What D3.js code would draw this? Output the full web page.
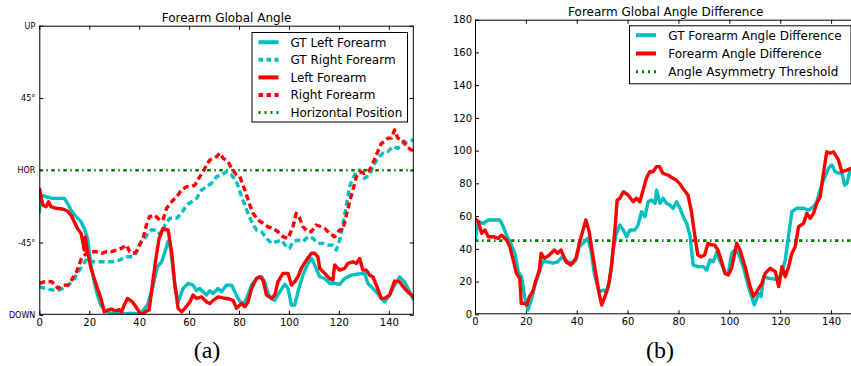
<!DOCTYPE html>
<html>
<head>
<meta charset="utf-8">
<script src="https://cdn.jsdelivr.net/npm/d3@7"></script>
<style>
  html, body { margin: 0; padding: 0; background: #fff; }
  svg { display: block; }
  text { fill: #000; }
</style>
</head>
<body>
<svg id="chart" width="851" height="366"></svg>
<script>
// ---------------- DATA ----------------
// Panel (a): Forearm Global Angle, frames vs angle (degrees, -90 = DOWN, 0 = HOR, 90 = UP)
const frameTicks = [0, 20, 40, 60, 80, 100, 120, 140];
const angleTickValues = [-90, -45, 0, 45, 90];
const angleTickLabels = ["DOWN", "-45°", "HOR", "45°", "UP"];
const horizontalPosition = 0;

const gtLeftForearm = [[0,-26.8],[0.6,-15.4],[2.7,-16.5],[5.3,-17.5],[8,-17.5],[10,-17.5],[11.3,-20.6],[12.7,-24.8],[14.7,-28.9],[16.7,-32],[18,-36.2],[19.3,-42.4],[20.7,-59],[22,-69.4],[23.3,-77.7],[24.7,-84],[26,-87],[28,-89],[31,-88.5],[34,-89.5],[37,-89],[39,-89.5],[41.3,-88],[43.3,-84],[45.3,-73.6],[47.3,-60],[49,-57],[50.5,-50],[51.6,-44],[52.3,-46],[53.3,-58],[54.3,-72],[55.6,-82],[57.6,-73.6],[59.6,-70.4],[61.6,-71.5],[63,-75],[64.3,-73.6],[65.6,-75.7],[67,-77.7],[68.3,-75],[69.6,-76.7],[71.6,-73.6],[73,-75.7],[75,-71.5],[77,-71.5],[78.3,-75.7],[79.6,-79.8],[81,-83],[82.3,-82],[83.6,-77.7],[85,-71.5],[87,-67.4],[89,-66.3],[90.3,-69.4],[91.6,-76.7],[93,-79.8],[94.3,-81],[96.3,-75.7],[98.3,-71],[99.6,-73.6],[101,-84],[102.3,-84],[103.6,-75.7],[105.6,-65.3],[107.6,-58],[109,-54.9],[110.3,-59],[112.3,-66.3],[114.3,-67.4],[116.3,-70.4],[118.3,-70.4],[120.3,-71],[122.3,-67.4],[125,-65.3],[127.6,-64.6],[130.3,-64.2],[131.6,-70.4],[133.6,-73.6],[135.6,-76.7],[137,-79.8],[138.3,-82],[140.3,-77.7],[142.3,-71.5],[144.3,-66.5],[146.3,-69.4],[148.3,-75.7],[150,-81]];

const gtRightForearm = [[0,-72.6],[2.7,-73.6],[5.3,-74.6],[8,-74.6],[10.6,-72.6],[13.3,-69.4],[15.3,-64.2],[17.3,-59],[19.3,-54.9],[21.3,-57],[24,-57],[26.7,-57],[29.3,-57],[32,-56],[34.7,-53.9],[37.3,-53.9],[38.7,-51.7],[40.7,-44.5],[42.7,-41.4],[44.7,-37.2],[46.7,-37.2],[48.7,-40.3],[50.3,-34.1],[52.3,-29.9],[55,-29.9],[57,-26.8],[59,-21.6],[61,-19.6],[63,-17.5],[65,-12.3],[67,-10.2],[69,-8.1],[71,-4],[73,-2.9],[75,-0.9],[77,-2.9],[79,-7.1],[81,-16.5],[82.3,-21.6],[83.6,-26.8],[85,-32],[87,-37.2],[89,-38.3],[91,-42.4],[93,-45.5],[95,-44.5],[97,-43.5],[99,-47.6],[100.3,-48.6],[101.6,-44.5],[103.6,-43.5],[105.6,-44.5],[107.6,-41.4],[109.6,-42.4],[111.6,-45.5],[113.6,-45.5],[115.6,-46.6],[117.6,-46.6],[119,-49.7],[120.3,-43.5],[121.6,-34.1],[123,-21.6],[124.3,-10.2],[125.6,-5],[127,-0.9],[128.3,0.2],[130.3,-5],[132.3,-2.9],[133.6,2.2],[135.6,7.5],[137.6,10.6],[139.6,11.6],[141.6,14.7],[143.6,13.7],[145.6,16.8],[147.6,17.8],[150,19]];

const leftForearm = [[0,-11],[1.4,-21.6],[2.7,-22.7],[3.7,-19.6],[4.7,-22.7],[6.7,-23.7],[9.3,-24.1],[11.3,-25.4],[12.7,-27.9],[14,-32],[15.3,-36.2],[16.7,-39.3],[17.3,-43.5],[18,-49.7],[18.4,-41.6],[19.3,-50.7],[20.7,-61],[22,-67.4],[23.3,-73.6],[24.7,-79.8],[26,-88.2],[27.5,-87],[29,-86.5],[30.5,-87.5],[32,-86.8],[33,-88],[34,-84],[35.3,-79.8],[37.3,-82],[38.7,-85],[40.7,-90],[42.7,-88],[44,-87],[45.3,-71.5],[46.7,-54.9],[48,-42.4],[49.4,-36.6],[51.6,-37.2],[53,-50.7],[54.3,-71.5],[55.6,-86],[57,-88.2],[58.3,-86],[60.3,-82],[61.6,-77.7],[63,-79.8],[65,-78.8],[67,-82],[68.3,-83],[69.6,-81],[71.6,-78.8],[73.6,-79.5],[75.6,-80],[77.6,-81],[79,-86],[81,-83],[82.3,-85],[83.6,-82],[85,-73.6],[87,-67.4],[88.3,-66.3],[89.6,-68.4],[91,-77.7],[93,-79.8],[94.3,-77.7],[95.6,-69.4],[97.6,-64.2],[99.6,-64.2],[101,-71.5],[102.3,-69.4],[103.6,-66.3],[105,-61],[107,-55.9],[109,-51.7],[110.3,-51.7],[111.6,-53.9],[112.3,-61],[114.3,-64.2],[116.3,-67.4],[117.6,-68.4],[118.3,-59],[120.3,-62.2],[122.3,-61],[123.6,-58],[125.6,-57],[127,-58],[128.3,-54.9],[129.6,-62.2],[131,-62.2],[132.3,-65.3],[133.6,-66.3],[135,-71.5],[137,-79.8],[138.3,-79.8],[140.3,-77.7],[142.3,-69],[144.3,-69.4],[146.3,-73.6],[148.3,-76.7],[150,-79]];

const rightForearm = [[0,-70.4],[2.3,-69.4],[5,-69.4],[7.6,-73.6],[9.6,-71.5],[11.6,-71.5],[12.9,-68.4],[14.9,-63.2],[16.9,-54.9],[18.9,-51.7],[20.9,-50.7],[22.9,-50.7],[24.9,-51.7],[26.9,-50.7],[28.9,-50.7],[30.9,-49.7],[32.9,-48.6],[34.9,-46.6],[36.2,-50.7],[37.6,-51.7],[38.9,-50.7],[40.2,-46.6],[41.6,-42.4],[42.9,-34.1],[44.2,-28.9],[46.2,-27.9],[48.2,-31],[49.5,-31],[51,-23.7],[53,-19.6],[55,-16.5],[57,-12.3],[59,-10.2],[61,-10.2],[62.3,-9.2],[64.3,-4],[65.6,-0.9],[67,3.3],[68.3,6.4],[69.6,7.5],[71,8.5],[72.3,10.6],[73.6,7.5],[75.6,5.4],[77,1.2],[79,-2.9],[80.3,-4],[81.6,-9.2],[83,-15.4],[84.3,-21.6],[85.6,-26.8],[87.6,-31],[89.6,-33],[91.6,-35.2],[93.6,-36.2],[95.6,-38.3],[97.6,-41.4],[99.6,-42.4],[101.6,-35.2],[102.9,-26.8],[104.3,-29.9],[105.6,-35.2],[107.6,-38.3],[108.9,-38.3],[110.9,-34.1],[112.9,-35.2],[114.3,-36.2],[116.3,-39.3],[118.3,-41.4],[120.3,-37.2],[121.6,-37.2],[123,-27.9],[124.3,-19.6],[125.6,-12.3],[127,-4],[128.3,-0.9],[130.3,-1.9],[132.3,0.2],[133.6,4.4],[135,9.5],[137,16.8],[138.3,17.8],[139.6,20],[141,20],[142.3,25.1],[143.6,20],[145.6,18.9],[147,14.7],[149,12.7],[150,12.5]];

// Panel (b): Forearm Global Angle Difference (degrees)
const diffTicks = [0, 20, 40, 60, 80, 100, 120, 140, 160, 180];
const asymmetryThreshold = 45;

const gtAngleDifference = [[0,45.4],[1.3,56.6],[3.3,55.6],[5.2,57.6],[7.9,57.6],[9.8,57.6],[11.1,53.5],[12.4,48.4],[13.7,44.3],[15.7,37.3],[17,26],[18.3,23],[19.5,10.8],[20.8,2.6],[22.1,8.7],[23.4,16.9],[25.3,26],[26.6,32.1],[28.6,32.1],[30.5,31.2],[32.5,32.1],[34.4,35.2],[36.4,32.1],[38.4,31.2],[39.7,33.2],[41,41.3],[43,44.3],[44.3,46.4],[45.6,39.3],[46.9,25],[48.2,16.9],[49.1,13.8],[50.4,14.8],[51.7,13.8],[53,21],[54.3,39.3],[55.6,49.5],[56.9,54.5],[58.3,51.5],[59.6,47.4],[60.9,51.5],[62.8,51.5],[64.1,54.5],[65.5,62.7],[66.8,59.6],[68.1,68.8],[69.4,69.8],[70.8,67.8],[71.4,75.9],[72.7,67.8],[74,70.9],[75.3,67.8],[76.6,66.8],[77.9,64.8],[79.3,68.8],[80.6,64.8],[81.9,59.6],[83.2,55.6],[84.5,48.4],[85.8,30.1],[87.8,29.1],[89.8,29.1],[91.1,27],[92.4,33.2],[93.7,32.1],[95.1,38.2],[96.4,32.1],[97.7,28.1],[98.3,25],[99.6,25],[100.9,37.3],[102.2,39.3],[103.5,37.3],[105.5,29.1],[107.5,16.9],[108.8,10.8],[109.8,5.7],[111.6,12.8],[112.5,10.8],[113.5,23],[115.5,22],[117.5,21.5],[119.4,21],[120.7,26],[122,33.2],[123.3,48.4],[124.6,62.7],[126.6,64.8],[129.2,64.8],[131.2,63.7],[133.1,65.7],[134.4,68.8],[135.7,75.9],[137,82],[139,89.2],[140.3,91.2],[141.6,87.1],[143.3,86.1],[144.2,87.1],[145.3,79],[146.2,80],[147.5,88.1],[150,90]];

const angleDifference = [[0,58.6],[1.3,56.6],[2.6,49.5],[3.9,51.5],[5.2,47.4],[7.2,47.4],[9.1,46.4],[10.4,48.4],[12.4,45.4],[13.7,41.3],[15,33.2],[16.3,25],[17.6,22],[18.2,6.7],[19.5,6.7],[20.4,5.7],[21.4,10.8],[22.7,13.8],[24,21],[25.3,27],[26,37.3],[27.3,34.2],[29.2,36.2],[31.2,39.3],[32.5,37.3],[33.8,39.3],[35.8,32.1],[37.7,30.1],[39.7,34.2],[41,43.4],[42.3,50.5],[43.6,57.6],[44.9,50.5],[46.2,37.3],[47.5,25],[48.8,12.8],[49.8,5.7],[51.1,10.8],[52.4,16.9],[53.7,29.3],[55,51.5],[55.9,69.8],[57,70.9],[58.3,74.9],[60.2,72.9],[62.2,68.8],[63.5,70.9],[64.8,68.8],[66.1,75.9],[67.4,83.1],[68.7,87.1],[70,87.1],[71.3,90.2],[72.6,90.2],[73.9,86.1],[75.9,85.1],[77.8,83.1],[79.1,82],[80.4,80],[81.7,77],[83.7,72.9],[85,63.7],[86.3,49.5],[87.6,36.2],[88.9,35.2],[90.3,36.2],[91.6,43.4],[92.9,42.4],[94.2,42.4],[95.5,39.3],[96.8,33.2],[98.3,25],[99.6,24],[100.9,28.1],[102.9,43.4],[104.2,39.3],[106.2,29.1],[108.2,16.9],[109.5,10.8],[110.8,13.8],[112.8,18.9],[114.1,25],[116.1,28.1],[118.1,26],[119.4,16.9],[120.7,29.1],[122,23],[123.3,29.1],[124.6,37.3],[125.9,41.3],[127.2,53.5],[129.2,55.6],[130.5,61.7],[131.8,58.6],[133.1,61.7],[134.4,67.8],[135.7,71.8],[137,86.1],[138.3,99.3],[139.6,98.4],[141,99.3],[142.9,94.3],[144.2,87.1],[146.2,88.1],[147.9,89.2],[150,89]];

// ---------------- STYLE ----------------
const CYAN = "#00bfbf", RED = "#ff0000", GREEN = "#008000";
const LW = 3.4;
const DASH = "6,3.5";
const DASHDOT = "3.5,3.5,1.5,3.5";
const SANS = "'DejaVu Sans', sans-serif";

const svg = d3.select("#chart");

function drawPanel(cfg) {
  const g = svg.append("g");
  const x = cfg.x, y = cfg.y;
  const [x0, x1] = x.range();
  const [y0, y1] = y.range(); // y0 bottom, y1 top
  const clipId = cfg.id + "-clip";
  svg.append("defs").append("clipPath").attr("id", clipId)
    .append("rect").attr("x", x0).attr("y", y1).attr("width", x1 - x0).attr("height", y0 - y1);

  // axes: ticks pointing inward on all four sides
  const bottom = d3.axisBottom(x).tickValues(frameTicks).tickSize(-4).tickPadding(4).tickFormat(d3.format("d"));
  const top = d3.axisTop(x).tickValues(frameTicks).tickSize(-4).tickFormat("");
  const left = d3.axisLeft(y).tickValues(cfg.yTicks).tickSize(-4).tickPadding(cfg.yPad).tickFormat(cfg.yFormat);
  const right = d3.axisRight(y).tickValues(cfg.yTicks).tickSize(-4).tickFormat("");

  const gb = g.append("g").attr("transform", `translate(0,${y0})`).call(bottom);
  const gt = g.append("g").attr("transform", `translate(0,${y1})`).call(top);
  const gl = g.append("g").attr("transform", `translate(${x0},0)`).call(left);
  const gr = g.append("g").attr("transform", `translate(${x1},0)`).call(right);
  [gb, gt, gl, gr].forEach(a => {
    a.select(".domain").remove();
    a.selectAll(".tick line").attr("stroke", "#000").attr("stroke-width", 1);
    a.selectAll("text").style("font-family", SANS).attr("fill", "#000");
  });
  gb.selectAll("text").attr("font-size", 10).attr("dy", "0.71em");
  gl.selectAll("text").attr("font-size", cfg.yFont);

  const plot = g.append("g").attr("clip-path", `url(#${clipId})`);
  const line = d3.line().x(d => x(d[0])).y(d => y(d[1]));

  // threshold / reference line
  plot.append("line")
    .attr("x1", x0).attr("x2", x1)
    .attr("y1", y(cfg.refValue)).attr("y2", y(cfg.refValue))
    .attr("stroke", GREEN).attr("stroke-width", 2.6).attr("stroke-dasharray", DASHDOT);

  cfg.series.forEach(s => {
    plot.append("path").datum(s.data)
      .attr("d", line)
      .attr("fill", "none")
      .attr("stroke", s.color)
      .attr("stroke-width", LW)
      .attr("stroke-linejoin", "round")
      .attr("stroke-dasharray", s.dash || null);
  });

  // frame
  g.append("rect").attr("x", x0 + 0.5).attr("y", y1 + 0.5)
    .attr("width", x1 - x0 - 1).attr("height", y0 - y1 - 1)
    .attr("fill", "none").attr("stroke", "#000").attr("stroke-width", 1);

  // title
  g.append("text").attr("x", (x0 + x1) / 2).attr("y", cfg.titleY)
    .attr("text-anchor", "middle").attr("font-size", 12)
    .style("font-family", SANS).text(cfg.title);

  // legend
  const L = cfg.legend;
  const lg = g.append("g");
  lg.append("rect").attr("x", L.x + 0.5).attr("y", L.y + 0.5).attr("width", L.w).attr("height", L.h)
    .attr("fill", "#fff").attr("stroke", "#000").attr("stroke-width", 1);
  L.items.forEach((it, i) => {
    const cy = L.firstRow + i * L.rowStep;
    lg.append("line").attr("x1", L.sx).attr("x2", L.sx + 20).attr("y1", cy).attr("y2", cy)
      .attr("stroke", it.color).attr("stroke-width", it.lw || 4)
      .attr("stroke-dasharray", it.dash || null);
    lg.append("text").attr("x", L.tx).attr("y", cy + 4.4).attr("font-size", 12)
      .style("font-family", SANS).text(it.label);
  });

  // caption
  svg.append("text").attr("x", cfg.captionX).attr("y", 358)
    .attr("text-anchor", "middle")
    .style("font-family", "'Liberation Serif', 'DejaVu Serif', serif")
    .attr("font-size", 24).text(cfg.caption);
}

// Panel (a)
drawPanel({
  id: "pa",
  x: d3.scaleLinear().domain([0, 150]).range([39.3, 413.8]),
  y: d3.scaleLinear().domain([-90, 90]).range([314.8, 25.7]),
  yTicks: angleTickValues,
  yFormat: (d) => angleTickLabels[angleTickValues.indexOf(d)],
  yFont: 8, yPad: 4,
  refValue: horizontalPosition,
  title: "Forearm Global Angle", titleY: 21.5,
  series: [
    { data: gtLeftForearm, color: CYAN },
    { data: gtRightForearm, color: CYAN, dash: DASH },
    { data: leftForearm, color: RED },
    { data: rightForearm, color: RED, dash: DASH }
  ],
  legend: {
    x: 251.5, y: 32, w: 155.5, h: 89.5, sx: 258.5, tx: 290.5, firstRow: 42.2, rowStep: 17.6,
    items: [
      { label: "GT Left Forearm", color: CYAN },
      { label: "GT Right Forearm", color: CYAN, dash: "4.5,3.5" },
      { label: "Left Forearm", color: RED },
      { label: "Right Forearm", color: RED, dash: "4.5,3.5" },
      { label: "Horizontal Position", color: GREEN, lw: 3, dash: "2,4,2,4" }
    ]
  },
  caption: "(a)", captionX: 207
});

// Panel (b)
drawPanel({
  id: "pb",
  x: d3.scaleLinear().domain([0, 150]).range([475, 856.5]),
  y: d3.scaleLinear().domain([0, 180]).range([314.3, 19.7]),
  yTicks: diffTicks,
  yFormat: d3.format("d"),
  yFont: 10, yPad: 3,
  refValue: asymmetryThreshold,
  title: "Forearm Global Angle Difference", titleY: 15.5,
  series: [
    { data: gtAngleDifference, color: CYAN },
    { data: angleDifference, color: RED }
  ],
  legend: {
    x: 629, y: 25.3, w: 221.5, h: 58, sx: 636, tx: 668.3, firstRow: 35.2, rowStep: 18.3,
    items: [
      { label: "GT Forearm Angle Difference", color: CYAN },
      { label: "Forearm Angle Difference", color: RED },
      { label: "Angle Asymmetry Threshold", color: GREEN, lw: 3, dash: "2,4,2,4" }
    ]
  },
  caption: "(b)", captionX: 660
});
</script>
</body>
</html>
